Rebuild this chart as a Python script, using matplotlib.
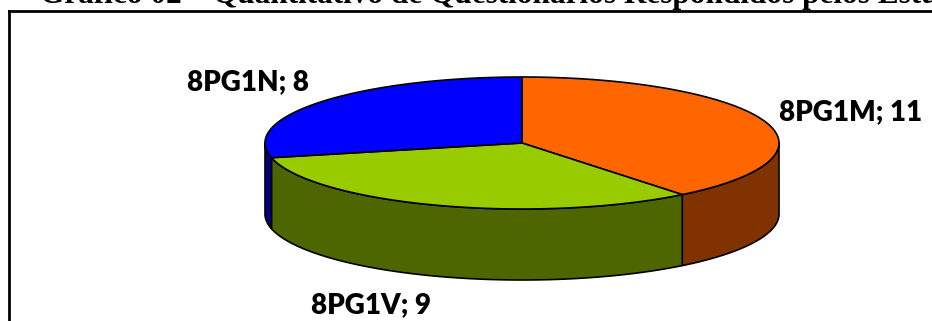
import numpy as np
import matplotlib
matplotlib.use("Agg")
import matplotlib.pyplot as plt
from matplotlib.patches import Polygon

# data
labels = ["8PG1M", "8PG1V", "8PG1N"]
values = [11, 9, 8]
top_colors = ["#FF6600", "#99CC00", "#0000FF"]
side_colors = ["#803300", "#4D6600", "#000080"]
title = "Gráfico 02 – Quantitativo de Questionários Respondidos pelos Estudantes"

# layout (pixels, y grows downward)
cx, cy = 522, 143
rx, ry = 257, 66
depth = 71
label_pos = [(851, 112), (371, 305), (248, 82)]


def rim(a0, a1, dy=0.0, n=200):
    t = np.radians(np.linspace(a0, a1, n))
    return np.column_stack([cx + rx * np.cos(t), cy - ry * np.sin(t) + dy])


fig = plt.figure(figsize=(9.32, 3.21), dpi=100)
ax = fig.add_axes([0, 0, 1, 1])
ax.set_xlim(0, 932)
ax.set_ylim(321, 0)
ax.axis("off")

fracs = np.asarray(values, dtype=float) / sum(values)
bounds = 90 - 360 * np.concatenate([[0], np.cumsum(fracs)])  # clockwise from 12 o'clock

edge = dict(edgecolor="black", linewidth=1.2, joinstyle="round")

# visible side walls (front half of the disc)
for i in range(len(values)):
    hi, lo = bounds[i], bounds[i + 1]
    a0, a1 = max(lo, -180), min(hi, 0)
    if a1 <= a0:
        continue
    top = rim(a0, a1)
    bottom = rim(a1, a0, dy=depth)
    ax.add_patch(Polygon(np.vstack([top, bottom]), closed=True,
                         facecolor=side_colors[i], zorder=2, **edge))

# top surface
for i in range(len(values)):
    arc = rim(bounds[i], bounds[i + 1])
    pts = np.vstack([[cx, cy], arc])
    ax.add_patch(Polygon(pts, closed=True, facecolor=top_colors[i], zorder=3, **edge))

for lab, val, (x, y) in zip(labels, values, label_pos):
    ax.text(x, y, f"{lab}; {val}", ha="center", va="center", fontsize=20,
            fontweight="heavy", family="Lato", color="black", zorder=4)

# chart frame (cut off at right and bottom)
ax.plot([9, 9], [321, 10.5], color="black", lw=2, solid_capstyle="projecting")
ax.plot([9, 932], [10.5, 10.5], color="black", lw=2, solid_capstyle="projecting")

# title only partly inside the crop, as in the source
ax.text(40, 3.0, title, ha="left", va="baseline", fontsize=22.5,
        fontweight="bold", family="Liberation Serif", color="black")

fig.savefig("out.png", dpi=100)
